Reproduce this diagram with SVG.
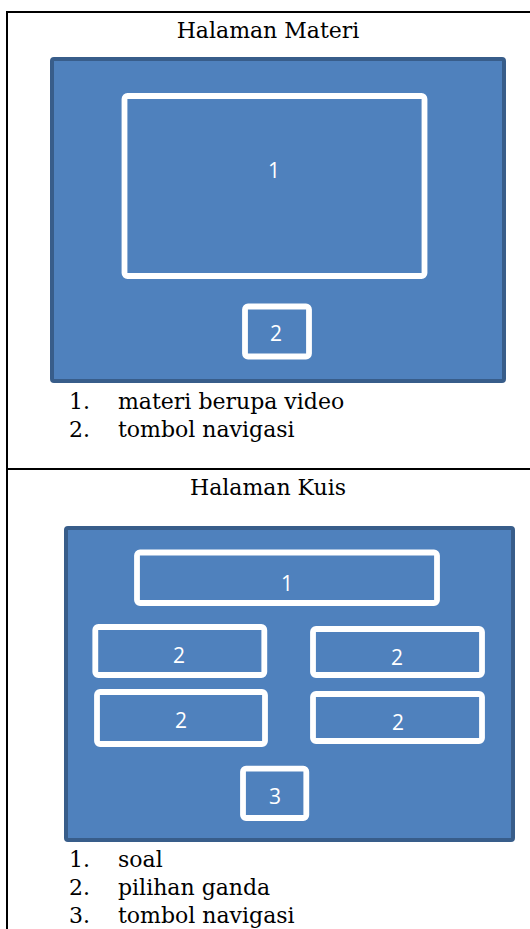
<svg xmlns="http://www.w3.org/2000/svg" width="530" height="929" viewBox="0 0 530 929">
<style>
.bg{fill:#ffffff}
.rule{stroke:#000;stroke-width:2;fill:none}
.panel{fill:#4F81BD;stroke:#385D8A;stroke-width:4}
.box{fill:#4F81BD;stroke:#ffffff;stroke-width:5.8}
.title{font-family:"DejaVu Serif","Liberation Serif",serif;font-size:22px;fill:#000;text-anchor:middle}
.item{font-family:"DejaVu Serif","Liberation Serif",serif;font-size:22px;fill:#000}
.lbl{font-family:"Open Sans","Liberation Sans",sans-serif;font-size:21px;fill:#fff;text-anchor:middle}
</style>
<rect class="bg" x="0" y="0" width="530" height="929"/>
<g id="table">
<line class="rule" x1="7" y1="12" x2="530" y2="12"/>
<line class="rule" x1="7" y1="11" x2="7" y2="929"/>
<line class="rule" x1="7" y1="469" x2="530" y2="469"/>
</g>
<g id="materi">
<text class="title" x="268" y="38">Halaman Materi</text>
<g id="materi-panel"><rect class="panel" x="52" y="59" width="452" height="322" rx="2"/></g>
<g id="materi-box1"><rect class="box" x="124.5" y="96" width="300" height="180" rx="3"/><text class="lbl" x="274" y="178">1</text></g>
<g id="materi-box2"><rect class="box" x="245" y="306.5" width="64" height="50" rx="3"/><text class="lbl" x="276" y="341">2</text></g>
<g id="materi-list">
<text class="item" x="69" y="409">1.</text><text class="item" x="118" y="409">materi berupa video</text>
<text class="item" x="69" y="437">2.</text><text class="item" x="118" y="437">tombol navigasi</text>
</g>
</g>
<g id="kuis">
<text class="title" x="268" y="495">Halaman Kuis</text>
<g id="kuis-panel"><rect class="panel" x="66" y="528" width="447" height="312" rx="2"/></g>
<g id="kuis-box1"><rect class="box" x="137" y="552.5" width="300" height="50.5" rx="3"/><text class="lbl" x="287" y="591">1</text></g>
<g id="kuis-box2a"><rect class="box" x="95.3" y="627" width="169" height="48" rx="3"/><text class="lbl" x="179" y="663">2</text></g>
<g id="kuis-box2b"><rect class="box" x="313" y="629" width="169" height="46" rx="3"/><text class="lbl" x="397" y="665">2</text></g>
<g id="kuis-box2c"><rect class="box" x="97" y="692" width="168" height="52" rx="3"/><text class="lbl" x="181" y="728">2</text></g>
<g id="kuis-box2d"><rect class="box" x="313" y="694" width="169" height="47" rx="3"/><text class="lbl" x="398" y="730">2</text></g>
<g id="kuis-box3"><rect class="box" x="243" y="768.7" width="63.3" height="49.3" rx="3"/><text class="lbl" x="275" y="804">3</text></g>
<g id="kuis-list">
<text class="item" x="69" y="867">1.</text><text class="item" x="118" y="867">soal</text>
<text class="item" x="69" y="895">2.</text><text class="item" x="118" y="895">pilihan ganda</text>
<text class="item" x="69" y="923">3.</text><text class="item" x="118" y="923">tombol navigasi</text>
</g>
</g>
</svg>
